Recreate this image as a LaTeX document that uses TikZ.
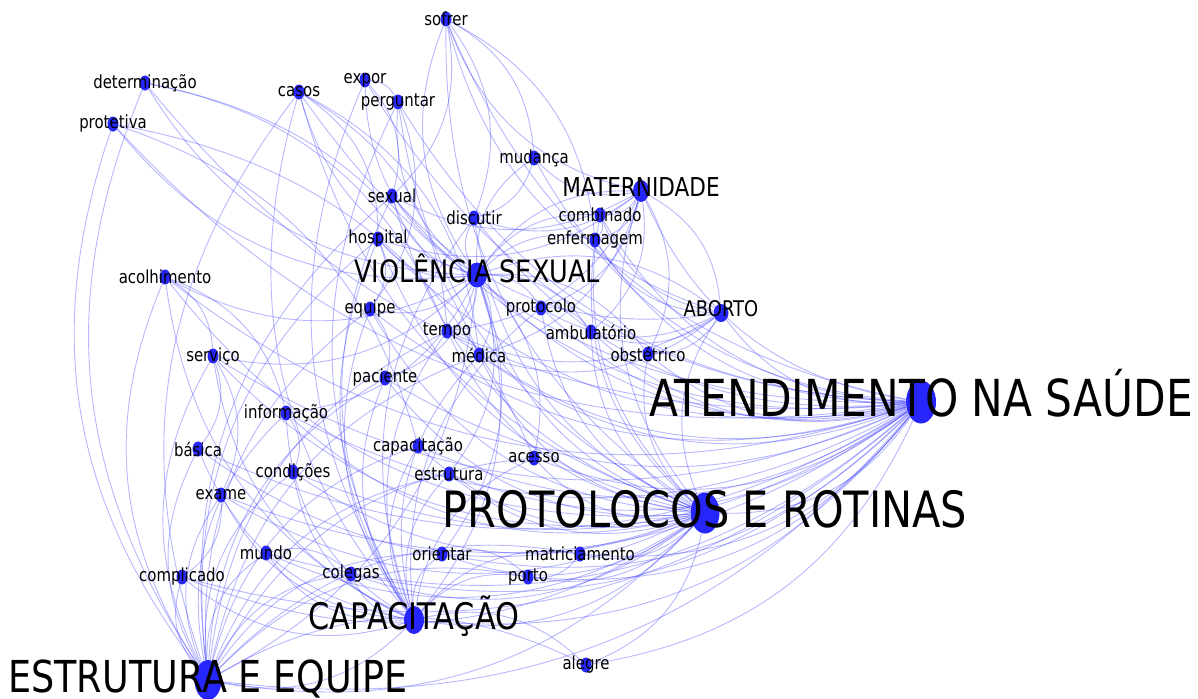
\documentclass[tikz,border=0pt]{standalone}
\usepackage{fontspec}
\setmainfont{DejaVu Sans}[FakeStretch=0.83]
\usetikzlibrary{shapes.geometric}
\definecolor{nodeblue}{RGB}{38,38,250}
\definecolor{edgeblue}{RGB}{55,55,255}
\pgfdeclarelayer{background}
\pgfsetlayers{background,main}
\tikzset{
  word/.style={ellipse, fill=nodeblue, inner sep=0pt, minimum width=5.5pt, minimum height=7.5pt,
    label={[font=\fontsize{9}{9}\selectfont]center:#1}},
  theme/.style n args={5}{ellipse, fill=nodeblue, inner sep=0pt, minimum width=#3, minimum height=#4,
    label={[font=\fontsize{#2}{#2}\selectfont, text height=#5, text depth=0pt, yshift=2pt]center:#1}},
  link/.style={draw=edgeblue, opacity=0.36, line width=0.45pt, bend left=28},
}

\begin{document}
\begin{tikzpicture}[x=0.5pt, y=-0.5pt]
    \useasboundingbox (0,0) rectangle (1198,698);

    % Main themes
    \node[theme={ATENDIMENTO NA SAÚDE}{25.5}{15pt}{21.5pt}{18.6pt}] (aten) at (921,402) {};
    \node[theme={PROTOLOCOS E ROTINAS}{25}{14.5pt}{20.5pt}{18.25pt}] (proto) at (705,513) {};
    \node[theme={VIOLÊNCIA SEXUAL}{15.4}{10pt}{12.5pt}{11.2pt}] (viol) at (477,275) {};
    \node[theme={MATERNIDADE}{13}{8pt}{11pt}{9.5pt}] (mater) at (641,191) {};
    \node[theme={ABORTO}{10.8}{7.5pt}{9pt}{7.9pt}] (aborto) at (721,313) {};
    \node[theme={CAPACITAÇÃO}{18.3}{10pt}{14pt}{13.4pt}] (capac) at (414,620) {};
    \node[theme={ESTRUTURA E EQUIPE}{22}{13.5pt}{20pt}{16.1pt}] (estr) at (208,680) {};

    % Words
    \node[word=sofrer] (sofrer) at (446,19) {};
    \node[word=determinação] (determ) at (145,83) {};
    \node[word=protetiva] (protet) at (113,124) {};
    \node[word=casos] (casos) at (299,92) {};
    \node[word=expor] (expor) at (365,80) {};
    \node[word=perguntar] (pergunt) at (398,102) {};
    \node[word=mudança] (mudanca) at (534,158) {};
    \node[word=sexual] (sexual) at (392,196) {};
    \node[word=discutir] (discutir) at (474,218) {};
    \node[word=combinado] (combin) at (600,215) {};
    \node[word=enfermagem] (enferm) at (595,240) {};
    \node[word=hospital] (hospital) at (378,239) {};
    \node[word=acolhimento] (acolh) at (165,277) {};
    \node[word=equipe] (equipe) at (370,309) {};
    \node[word=protocolo] (protoc) at (541,308) {};
    \node[word=tempo] (tempo) at (447,331) {};
    \node[word=ambulatório] (ambul) at (591,332) {};
    \node[word=médica] (medica) at (479,355) {};
    \node[word=obstétrico] (obst) at (648,354) {};
    \node[word=serviço] (servico) at (213,356) {};
    \node[word=paciente] (pacient) at (385,378) {};
    \node[word=informação] (inform) at (286,413) {};
    \node[word=capacitação] (capacit) at (418,446) {};
    \node[word=básica] (basica) at (198,449) {};
    \node[word=acesso] (acesso) at (534,458) {};
    \node[word=condições] (condic) at (293,472) {};
    \node[word=estrutura] (estrut) at (449,474) {};
    \node[word=exame] (exame) at (221,495) {};
    \node[word=mundo] (mundo) at (266,553) {};
    \node[word=orientar] (orient) at (442,554) {};
    \node[word=matriciamento] (matric) at (580,554) {};
    \node[word=complicado] (complic) at (182,577) {};
    \node[word=colegas] (colegas) at (351,574) {};
    \node[word=porto] (porto) at (528,577) {};
    \node[word=alegre] (alegre) at (586,665) {};

    % Links
    \begin{pgfonlayer}{background}
    \foreach \t in {sofrer,casos,expor,pergunt,mudanca,mater,sexual,discutir,combin,enferm,hospital,viol,acolh,equipe,protoc,tempo,ambul,aborto,medica,obst,servico,pacient,inform,capacit,acesso,condic,estrut,proto,mundo,orient,matric,colegas,porto,capac,alegre,estr,determ,protet,basica,exame,complic}
        \draw[link] (aten) to (\t);
    \foreach \t in {sofrer,mater,sexual,discutir,combin,enferm,hospital,viol,acolh,equipe,protoc,tempo,ambul,aborto,medica,obst,servico,pacient,inform,capacit,acesso,condic,estrut,mundo,orient,matric,colegas,porto,capac,alegre,estr,basica,exame,complic,casos,pergunt}
        \draw[link] (proto) to (\t);
    \foreach \t in {sofrer,casos,expor,pergunt,mudanca,mater,sexual,discutir,combin,enferm,hospital,equipe,protoc,tempo,ambul,aborto,medica,obst,pacient,inform,acesso,estrut,orient,capac,estr,determ,protet,acolh,servico}
        \draw[link] (viol) to (\t);
    \foreach \t in {casos,expor,pergunt,sexual,hospital,equipe,tempo,medica,pacient,inform,capacit,acesso,condic,estrut,exame,mundo,orient,matric,complic,colegas,porto,alegre,estr,servico,acolh,basica,protoc,discutir}
        \draw[link] (capac) to (\t);
    \foreach \t in {determ,protet,casos,acolh,servico,basica,exame,mundo,complic,inform,condic,colegas,equipe,hospital,pacient,capacit,estrut,orient,porto,matric,alegre,acesso,tempo,medica,sexual}
        \draw[link] (estr) to (\t);
    \foreach \t in {sofrer,mudanca,combin,enferm,discutir,sexual,ambul,obst,aborto,protoc,medica,tempo,hospital}
        \draw[link] (mater) to (\t);
    \foreach \t in {obst,ambul,protoc,medica,enferm,combin,tempo,sofrer,sexual}
        \draw[link] (aborto) to (\t);
    \foreach \a/\b in {sofrer/sexual,sofrer/discutir,sofrer/mudanca,sofrer/enferm,determ/medica,determ/tempo,protet/acesso,protet/capacit,casos/hospital,casos/tempo,casos/medica,expor/pergunt,expor/sexual,pergunt/equipe,mudanca/discutir,acolh/servico,acolh/inform,servico/basica,servico/exame,inform/condic,exame/complic,mundo/colegas,orient/porto,matric/porto,equipe/pacient,tempo/medica,combin/enferm,protoc/ambul,hospital/equipe}
        \draw[link] (\a) to (\b);
    \end{pgfonlayer}
\end{tikzpicture}
\end{document}
